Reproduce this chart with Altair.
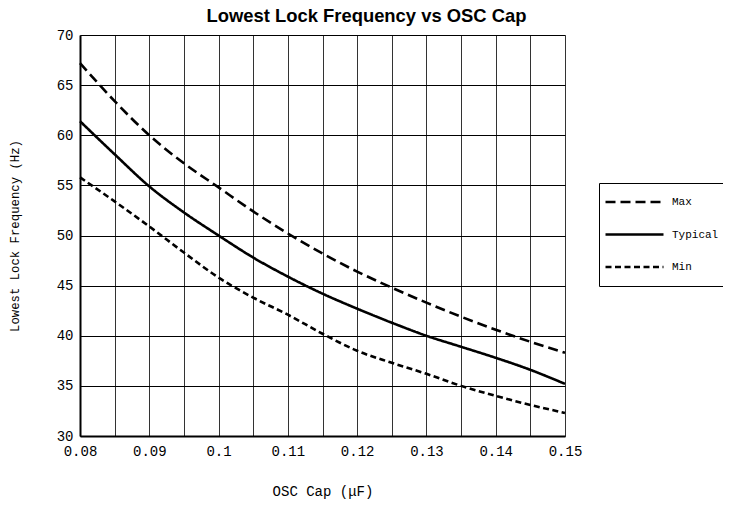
import altair as alt
import pandas as pd

cap = [0.08, 0.085, 0.09, 0.095, 0.1, 0.105, 0.11, 0.115, 0.12, 0.125, 0.13, 0.135, 0.14, 0.145, 0.15]
max_vals = [67.2, 63.4, 60.0, 57.2, 54.8, 52.4, 50.2, 48.2, 46.4, 44.8, 43.3, 41.9, 40.6, 39.4, 38.3]
typ_vals = [61.4, 58.1, 54.9, 52.3, 50.0, 47.8, 45.9, 44.2, 42.7, 41.3, 40.0, 38.9, 37.8, 36.6, 35.2]
min_vals = [55.8, 53.4, 50.9, 48.3, 45.8, 43.8, 42.1, 40.2, 38.5, 37.3, 36.2, 35.0, 34.0, 33.1, 32.3]
series = ["Max", "Typical", "Min"]
x_ticks = [0.08, 0.085, 0.09, 0.095, 0.1, 0.105, 0.11, 0.115, 0.12, 0.125, 0.13, 0.135, 0.14, 0.145, 0.15]
y_ticks = [30, 35, 40, 45, 50, 55, 60, 65, 70]

rows = []
for name, vals in zip(series, [max_vals, typ_vals, min_vals]):
    for c, v in zip(cap, vals):
        rows.append({"cap": c, "freq": v, "series": name})
df = pd.DataFrame(rows)

mono = "Liberation Mono"

chart = alt.Chart(df).mark_line(color="black", strokeWidth=2.6, interpolate="monotone").encode(
    x=alt.X("cap:Q", scale=alt.Scale(domain=[0.08, 0.15], nice=False, zero=False),
            axis=alt.Axis(values=x_ticks, title="OSC Cap (\u03bcF)",
                          labelExpr="round(datum.value*1000) % 10 == 0 ? format(datum.value, '~g') : ''",
                          grid=True, gridColor="#333", gridWidth=1, gridOpacity=1,
                          ticks=False, domainColor="black", domainWidth=2,
                          labelFont=mono, labelFontSize=14, labelColor="black", labelPadding=8,
                          labelBaseline="top", labelFlush=False,
                          titleFont=mono, titleFontSize=14, titleFontWeight="normal", titleColor="black",
                          titleY=55, titleBaseline="middle")),
    y=alt.Y("freq:Q", scale=alt.Scale(domain=[30, 70], nice=False, zero=False),
            axis=alt.Axis(values=y_ticks, title="Lowest Lock Frequency (Hz)",
                          grid=True, gridColor="black", gridWidth=1, gridOpacity=1,
                          ticks=False, domainColor="black", domainWidth=2,
                          labelFont=mono, labelFontSize=14, labelColor="black", labelPadding=7,
                          labelFlush=False,
                          titleFont=mono, titleFontSize=12.3, titleFontWeight="normal", titleColor="black",
                          titleX=-66, titleBaseline="middle")),
    strokeDash=alt.StrokeDash("series:N",
                              scale=alt.Scale(domain=series, range=[[10, 5], [1, 0], [6, 3.5]]),
                              legend=alt.Legend(title=None, orient="none", legendX=519, legendY=148,
                                                symbolType="stroke", symbolSize=3364,
                                                symbolStrokeWidth=2.6, symbolStrokeColor="black",
                                                labelFont=mono, labelFontSize=11, labelColor="black",
                                                labelOffset=7, clipHeight=28, rowPadding=4.5,
                                                padding=5, strokeColor="black", fillColor="white",
                                                cornerRadius=0)),
).properties(
    width=485,
    height=401,
    title=alt.TitleParams("Lowest Lock Frequency vs OSC Cap", font="Liberation Sans",
                          fontSize=18.4, fontWeight="bold", color="black", anchor="middle",
                          offset=3, dx=44),
    autosize=alt.AutoSizeParams(type="none"),
    padding={"left": 72, "top": 27, "right": 158, "bottom": 64},
).configure_view(stroke="black", strokeWidth=2).configure(background="white")

chart.save("out.html", embed_options={"renderer": "svg", "actions": False})
